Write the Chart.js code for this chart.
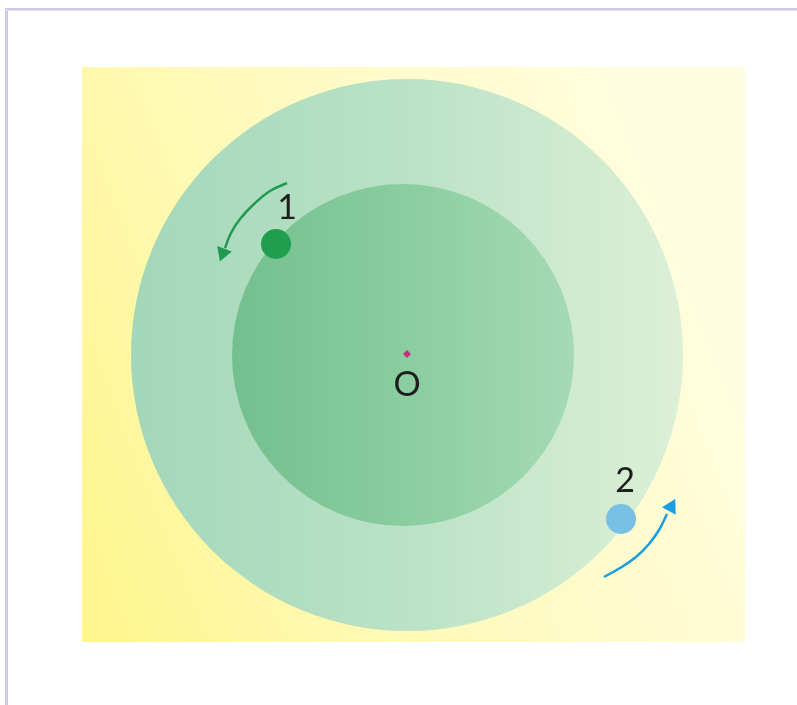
<!DOCTYPE html>
<html>
<head>
<meta charset="utf-8">
<script src="https://cdn.jsdelivr.net/npm/chart.js"></script>
<style>
  body { margin: 0; background: #ffffff; }
  canvas { display: block; }
</style>
</head>
<body>
<canvas id="orbit-chart" width="797" height="705"></canvas>
<script>
// axis limits, centre O sits at (0, 0)
const xLimits = [-325, 338];
const yLimits = [-287, 288];

// the two discs: outer orbit zone and inner one
const discX = [0, -4];
const discY = [0, 0];
const discR = [276, 171];

// bodies 1 and 2
const bodyNames = ['1', '2'];
const bodyX = [-131, 214];
const bodyY = [111, -164];

// centre point
const centreX = [0];
const centreY = [1];

// curved arrows
const arrow1X = [-120, -137, -153, -167, -176, -182];
const arrow1Y = [172, 164, 151, 136, 122, 107];
const arrow2X = [197, 213, 229, 242, 252, 260];
const arrow2Y = [-222, -213, -202, -189, -175, -159];
const headX = [-184, 264];
const headY = [102, -152];
const headAngle = [200, 28];

// text labels
const labelText = ['1', '2', 'O'];
const labelX = [-120, 218, 0];
const labelY = [147, -126, -30];

function points(xs, ys) {
  return xs.map((x, i) => ({ x: x, y: ys[i] }))
}

function discGradient(ctx, from, to) {
  const chart = ctx.chart
  if (!chart.chartArea || !ctx.raw) return from[1]
  const cx = chart.scales.x.getPixelForValue(ctx.raw.x)
  const g = chart.ctx.createLinearGradient(cx - ctx.raw.r, 0, cx + ctx.raw.r, 0)
  g.addColorStop(0, from[0])
  g.addColorStop(0.5, from[1])
  g.addColorStop(1, to)
  return g
}

const backdrop = {
  id: 'backdrop',
  beforeDraw(chart) {
    const c = chart.ctx
    const a = chart.chartArea
    c.save()
    c.fillStyle = '#ffffff'
    c.fillRect(0, 0, chart.width, chart.height)
    const g = c.createLinearGradient(a.left, a.bottom, a.right, a.bottom - 260)
    g.addColorStop(0, '#fff58c')
    g.addColorStop(0.4, '#fff9b6')
    g.addColorStop(1, '#fffde0')
    c.fillStyle = g
    c.fillRect(a.left, a.top, a.right - a.left, a.bottom - a.top)
    // frame lines at top and left
    c.fillStyle = '#cbcbe8'
    c.fillRect(5, 8, chart.width - 5, 2)
    c.fillRect(5, 8, 3, chart.height - 8)
    c.fillStyle = '#e4e4f4'
    c.fillRect(5, 10, chart.width - 5, 1)
    c.restore()
  }
}

const labels = {
  id: 'labels',
  afterDatasetsDraw(chart) {
    const c = chart.ctx
    c.save()
    c.fillStyle = '#1e1e1e'
    c.font = '34px Lato, "DejaVu Sans", sans-serif'
    c.textAlign = 'center'
    c.textBaseline = 'middle'
    labelText.forEach((t, i) => {
      c.fillText(t, chart.scales.x.getPixelForValue(labelX[i]), chart.scales.y.getPixelForValue(labelY[i]))
    })
    c.restore()
  }
}

const canvas = document.getElementById('orbit-chart')
new Chart(canvas, {
  type: 'scatter',
  data: {
    datasets: [
      {
        type: 'bubble',
        data: [{ x: discX[0], y: discY[0], r: discR[0] }],
        backgroundColor: (ctx) => discGradient(ctx, ['#a3d7ba', '#bbe2c6'], '#dcf0d6'),
        borderWidth: 0,
        order: 9
      },
      {
        type: 'bubble',
        data: [{ x: discX[1], y: discY[1], r: discR[1] }],
        backgroundColor: (ctx) => discGradient(ctx, ['#74bf8e', '#8acd9f'], '#a5dab4'),
        borderWidth: 0,
        order: 8
      },
      {
        data: points(centreX, centreY),
        pointStyle: 'rectRot',
        pointRadius: 4,
        backgroundColor: '#c4307c',
        borderWidth: 0,
        order: 4
      },
      {
        data: [{ x: bodyX[0], y: bodyY[0] }],
        pointRadius: 15,
        backgroundColor: '#219d50',
        borderWidth: 0,
        order: 3
      },
      {
        data: [{ x: bodyX[1], y: bodyY[1] }],
        pointRadius: 15,
        backgroundColor: '#78c0e4',
        borderWidth: 0,
        order: 3
      },
      {
        type: 'line',
        data: points(arrow1X, arrow1Y),
        borderColor: '#1f9a50',
        borderWidth: 2.5,
        tension: 0.4,
        pointRadius: 0,
        fill: false,
        order: 2
      },
      {
        type: 'line',
        data: points(arrow2X, arrow2Y),
        borderColor: '#1b9ddf',
        borderWidth: 2.5,
        tension: 0.4,
        pointRadius: 0,
        fill: false,
        order: 2
      },
      {
        data: [{ x: headX[0], y: headY[0] }],
        pointStyle: 'triangle',
        pointRadius: 9,
        rotation: headAngle[0],
        backgroundColor: '#1f9a50',
        borderWidth: 0,
        order: 1
      },
      {
        data: [{ x: headX[1], y: headY[1] }],
        pointStyle: 'triangle',
        pointRadius: 9,
        rotation: headAngle[1],
        backgroundColor: '#1b9ddf',
        borderWidth: 0,
        order: 1
      }
    ]
  },
  options: {
    responsive: false,
    animation: false,
    devicePixelRatio: 1,
    events: [],
    clip: false,
    layout: {
      autoPadding: false,
      padding: { left: 82, right: 52, top: 67, bottom: 63 }
    },
    scales: {
      x: { type: 'linear', min: xLimits[0], max: xLimits[1], display: false },
      y: { type: 'linear', min: yLimits[0], max: yLimits[1], display: false }
    },
    plugins: {
      legend: { display: false },
      tooltip: { enabled: false }
    }
  },
  plugins: [backdrop, labels]
})
</script>
</body>
</html>
